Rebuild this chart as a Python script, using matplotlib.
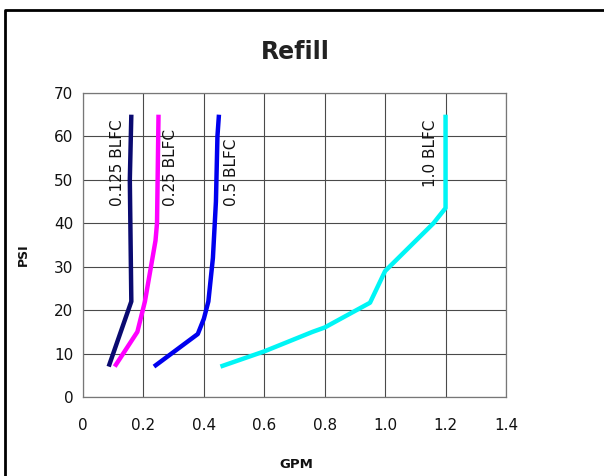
import matplotlib
matplotlib.use('Agg')
import matplotlib.pyplot as plt
from matplotlib.lines import Line2D

# flow curves (GPM, PSI)
gpm_0125 = [0.085, 0.15, 0.16, 0.155, 0.16]
psi_0125 = [7, 20, 22, 50, 65]

gpm_025 = [0.105, 0.18, 0.205, 0.24, 0.245, 0.25]
psi_025 = [7, 15, 22, 36, 40, 65]

gpm_05 = [0.235, 0.38, 0.40, 0.415, 0.43, 0.44, 0.445, 0.45]
psi_05 = [7, 14.5, 18, 22, 32, 45, 60, 65]

gpm_10 = [0.455, 0.60, 0.76, 0.80, 0.95, 1.0, 1.16, 1.2, 1.2]
psi_10 = [7, 10.5, 15, 16, 21.7, 29, 40, 43.5, 65]

series = [
    (gpm_0125, psi_0125, '#0a0a70', '0.125 BLFC', 0.113, 44),
    (gpm_025, psi_025, '#ff00ff', '0.25 BLFC', 0.289, 44),
    (gpm_05, psi_05, '#0000ee', '0.5 BLFC', 0.49, 44),
    (gpm_10, psi_10, '#00f5f5', '1.0 BLFC', 1.151, 48.4),
]

xticks = [0, 0.2, 0.4, 0.6, 0.8, 1.0, 1.2, 1.4]
xticklabels = ['0', '0.2', '0.4', '0.6', '0.8', '1.0', '1.2', '1.4']
yticks = [0, 10, 20, 30, 40, 50, 60, 70]

fig = plt.figure(figsize=(6.04, 4.76), dpi=100)
ax = fig.add_axes([0.1374, 0.166, 0.7003, 0.6387])

for x, y, c, lab, lx, ly in series:
    ax.plot(x, y, color=c, lw=3.2, solid_capstyle='butt', zorder=3)
    ax.text(lx, ly, lab, rotation=90, ha='center', va='bottom',
            fontsize=11, color='#111111', zorder=4)

ax.set_xlim(0, 1.4)
ax.set_ylim(0, 70)
ax.set_xticks(xticks)
ax.set_xticklabels(xticklabels)
ax.set_yticks(yticks)
ax.grid(True, color='#4a4a4a', lw=0.8)
ax.set_axisbelow(True)
ax.tick_params(length=0, labelsize=11, labelcolor='#111111')
ax.tick_params(axis='x', pad=15)
ax.tick_params(axis='y', pad=7)
for s in ax.spines.values():
    s.set_color('#777777')
    s.set_linewidth(0.9)

fig.text(0.489, 0.891, 'Refill', ha='center', va='center',
         fontsize=17, fontweight='bold', color='#222222')
fig.text(0.038, 0.465, 'PSI', rotation=90, ha='center', va='center',
         fontsize=9, fontweight='bold', color='#111111')
fig.text(0.49, 0.025, 'GPM', ha='center', va='center',
         fontsize=9.5, fontweight='bold', color='#111111')

# outer frame (left and top edges)
fig.add_artist(Line2D([5 / 604, 5 / 604, 1.0], [0.0, 1 - 10 / 476, 1 - 10 / 476],
                      transform=fig.transFigure, color='black', lw=2))

plt.savefig('out.png')
